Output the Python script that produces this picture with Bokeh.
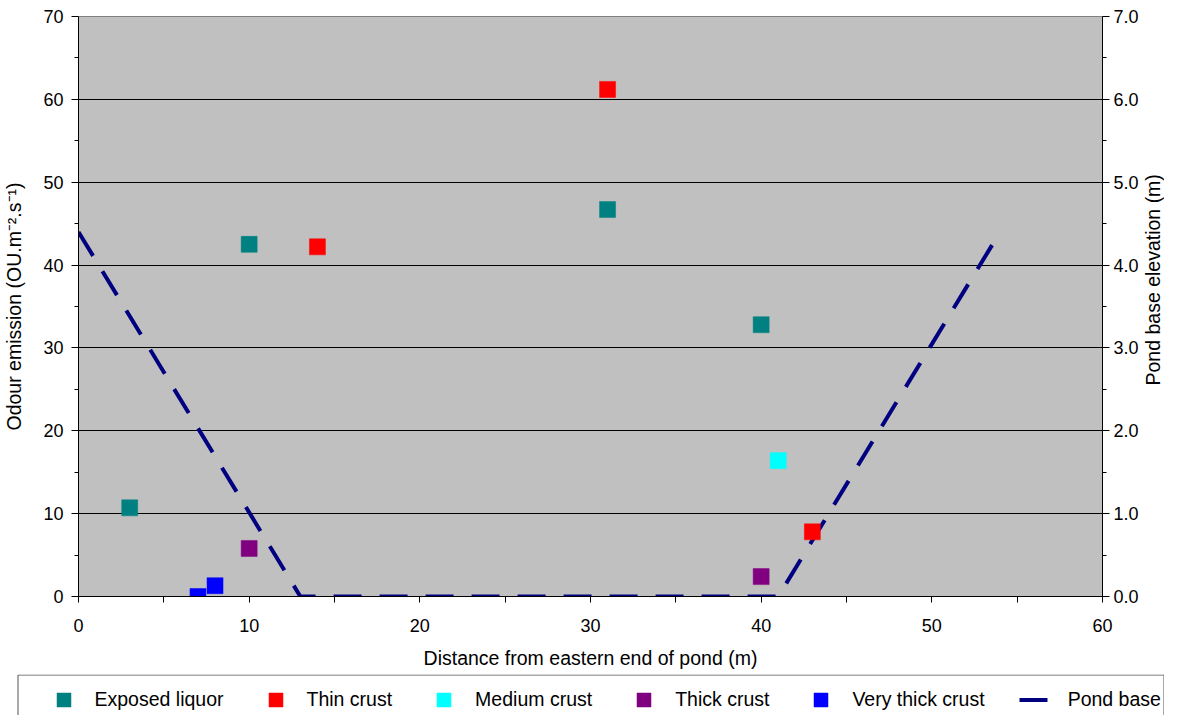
import math
from bokeh.plotting import figure
from bokeh.layouts import row, column
from bokeh.models import (Range1d, LinearAxis, FixedTicker, Legend, LegendItem,
                          PrintfTickFormatter)
from bokeh.core.properties import value
from bokeh.embed import file_html
from bokeh.resources import INLINE

FONT = "Liberation Sans"

# ---- data ----
exposed_x = [3, 10, 31, 40]
exposed_y = [10.7, 42.5, 46.7, 32.8]
thin_x = [14, 31, 43]
thin_y = [42.2, 61.2, 7.8]
medium_x = [41]
medium_y = [16.4]
thick_x = [10, 40]
thick_y = [5.8, 2.4]
vthick_x = [7, 8]
vthick_y = [0.0, 1.3]
pond_x = [0, 13, 41, 54]
pond_y = [4.4, 0.0, 0.0, 4.4]

x_ticks = [0, 10, 20, 30, 40, 50, 60]
x_minor = [5, 15, 25, 35, 45, 55]
y_ticks = [0, 10, 20, 30, 40, 50, 60, 70]
y_minor = [5, 15, 25, 35, 45, 55, 65]
r_ticks = [0, 1, 2, 3, 4, 5, 6, 7]
r_minor = [0.5, 1.5, 2.5, 3.5, 4.5, 5.5, 6.5]

series_names = ["Exposed liquor", "Thin crust", "Medium crust", "Thick crust",
                "Very thick crust", "Pond base"]
colors = ["#008080", "#FF0000", "#00FFFF", "#800080", "#0000FF", "#000080"]
pts = [(exposed_x, exposed_y), (thin_x, thin_y), (medium_x, medium_y),
       (thick_x, thick_y), (vthick_x, vthick_y)]

# ---- main chart ----
MAIN_W = 1142
p = figure(width=MAIN_W, height=674, output_backend="svg", toolbar_location=None,
           x_range=Range1d(0, 60), y_range=Range1d(0, 70),
           min_border_left=70, min_border_right=40, min_border_top=16,
           min_border_bottom=78)
p.extra_y_ranges = {"elev": Range1d(0, 7)}
p.background_fill_color = "#C0C0C0"
p.border_fill_color = "white"
p.outline_line_color = "#808080"
p.outline_line_width = 1


def style_axis(ax):
    ax.axis_line_color = "black"
    ax.major_tick_line_color = "black"
    ax.minor_tick_line_color = "black"
    ax.major_tick_in = 0
    ax.minor_tick_in = 0
    ax.major_tick_out = 7
    ax.minor_tick_out = 4
    ax.major_label_text_font = FONT
    ax.major_label_text_font_size = "18px"
    ax.major_label_text_color = "black"
    ax.axis_label_text_font = FONT
    ax.axis_label_text_font_size = "19.5px"
    ax.axis_label_text_font_style = "normal"
    ax.axis_label_text_color = "black"


style_axis(p.xaxis[0])
style_axis(p.yaxis[0])

p.xaxis.ticker = FixedTicker(ticks=x_ticks, minor_ticks=x_minor)
p.xaxis.axis_label = "Distance from eastern end of pond (m)"
p.xaxis.major_tick_out = 6
p.xaxis.minor_tick_out = 6
p.xaxis.major_label_standoff = 16
p.xaxis.axis_label_standoff = 12

p.yaxis.ticker = FixedTicker(ticks=y_ticks, minor_ticks=y_minor)
p.yaxis.axis_label = "Odour emission (OU.m\u207b\u00b2.s\u207b\u00b9)"
p.yaxis.major_label_standoff = 8
p.yaxis.axis_label_standoff = 15

p.xgrid.visible = False
p.ygrid.ticker = FixedTicker(ticks=y_ticks)
p.ygrid.grid_line_color = "black"
p.ygrid.grid_line_width = 1

rax = LinearAxis(y_range_name="elev",
                 ticker=FixedTicker(ticks=r_ticks, minor_ticks=r_minor),
                 formatter=PrintfTickFormatter(format="%.1f"))
style_axis(rax)
rax.major_label_standoff = 4
p.add_layout(rax, "right")

r_pond = p.line(pond_x, pond_y, y_range_name="elev", line_color=colors[5],
                line_width=4, line_dash="28 18")
for (xs, ys), c in zip(pts, colors[:5]):
    p.scatter(xs, ys, marker="square", size=16, fill_color=c, line_color=c,
              line_width=0.5)

# ---- right axis title (reads bottom-to-top) ----
LW = 1164 - MAIN_W
pl = figure(width=LW, height=674, output_backend="svg", toolbar_location=None,
            x_range=Range1d(0, LW), y_range=Range1d(0, 674),
            min_border=0, x_axis_location=None, y_axis_location=None)
pl.outline_line_color = None
pl.background_fill_color = "white"
pl.border_fill_color = "white"
pl.grid.visible = False
pl.text(x=[1160 - 8 - MAIN_W], y=[674 - 306], text=["Pond base elevation (m)"],
        angle=math.pi / 2, text_align="center", text_baseline="middle",
        text_font=value(FONT), text_font_size="19.5px", text_color="black")

# ---- legend strip ----
LG_W, LG_H = 1164, 41
pg = figure(width=LG_W, height=LG_H, output_backend="svg", toolbar_location=None,
            x_range=Range1d(0, LG_W), y_range=Range1d(0, LG_H),
            min_border=0, x_axis_location=None, y_axis_location=None)
pg.extra_x_ranges = {"hid": Range1d(-1000, -990)}
pg.extra_y_ranges = {"hid": Range1d(-1000, -990), "hid2": Range1d(-1000, -990)}
pg.outline_line_color = None
pg.background_fill_color = "white"
pg.border_fill_color = "white"
pg.grid.visible = False
# legend box outline (page x 25 .. right edge, top at strip top)
pg.quad(left=[17.5], right=[LG_W - 0.5], top=[LG_H - 0.5], bottom=[-20],
        fill_color=None, line_color="#555555", line_width=1)
lrends = []
for (xs, ys), c in zip(pts, colors[:5]):
    lrends.append(pg.scatter(xs, ys, x_range_name="hid", y_range_name="hid",
                             marker="square", size=16, fill_color=c,
                             line_color=c, line_width=0.5))
lrends.append(pg.line(pond_x, pond_y, x_range_name="hid", y_range_name="hid2",
                      line_color=colors[5], line_width=4, line_dash="28 18"))
items = [LegendItem(label=n, renderers=[r]) for n, r in zip(series_names, lrends)]
legend = Legend(items=items, orientation="horizontal", location=(45.5, -1.5),
                glyph_width=35, glyph_height=35, label_standoff=14, spacing=34,
                padding=6, margin=0,
                label_text_font=FONT, label_text_font_size="19.5px",
                label_text_color="black",
                border_line_color=None,
                background_fill_alpha=0)
pg.add_layout(legend, "center")

layout = column(row(p, pl, spacing=0), pg, spacing=0)
open("out.html", "w").write(file_html(layout, INLINE))
